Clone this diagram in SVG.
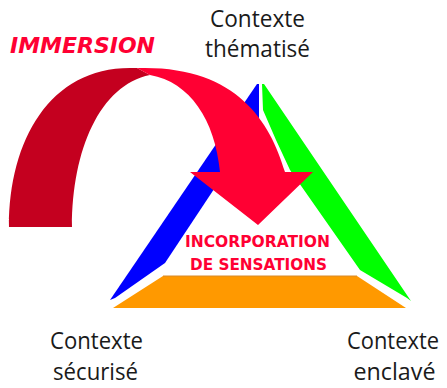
<svg xmlns="http://www.w3.org/2000/svg" width="447" height="388" viewBox="0 0 447 388">
<style>
.lbl{font-family:"Open Sans","Liberation Sans",sans-serif;font-size:24px;fill:#1a1a1a;text-anchor:middle}
.red{font-family:"DejaVu Sans","Liberation Sans",sans-serif;font-weight:bold;fill:#FF0033}
</style>
<rect width="447" height="388" fill="#ffffff"/>
<g id="triangle">
  <polygon id="side-blue" points="257,84 259,84 259,118 230,165 165,263 115,298 110,300" fill="#0000FF"/>
  <polygon id="side-green" points="262,84 264,84 411,301 407,298 360,270 290,170 276,140 263,110" fill="#00FF00"/>
  <polygon id="base-orange" points="163,276 357,276 406,308 113,308" fill="#FF9900"/>
  <line x1="163" y1="276" x2="357" y2="276" stroke="#D88A2A" stroke-width="1"/>
</g>
<g id="connectors">
  <g id="immersion-arrow">
    <path d="M9,227 C9,140 50,68 130,68 L137,68 L150,75 C100,85 72,150 72,227 Z" fill="#C4001F"/>
    <path d="M137,68 L140,68 C235,66 270,120 285,172 L313,172 L258,225 L190,172 L220,172 C215,120 190,82 150,75 Z" fill="#FF0033"/>
  </g>
</g>
<g id="label-immersion">
  <text class="red" x="10" y="53" font-size="21.5" font-style="italic" textLength="145" lengthAdjust="spacingAndGlyphs">IMMERSION</text>
</g>
<g id="node-incorporation">
  <text class="red" x="185" y="247" font-size="16.5" textLength="145" lengthAdjust="spacingAndGlyphs">INCORPORATION</text>
  <text class="red" x="190" y="270" font-size="16.5" textLength="137" lengthAdjust="spacingAndGlyphs">DE SENSATIONS</text>
</g>
<g id="node-thematise">
  <text class="lbl" x="257.5" y="27" textLength="95" lengthAdjust="spacingAndGlyphs">Contexte</text>
  <text class="lbl" x="257.5" y="57" textLength="105" lengthAdjust="spacingAndGlyphs">thématisé</text>
</g>
<g id="node-securise">
  <text class="lbl" x="96.5" y="349" textLength="93" lengthAdjust="spacingAndGlyphs">Contexte</text>
  <text class="lbl" x="95.5" y="380" textLength="85" lengthAdjust="spacingAndGlyphs">sécurisé</text>
</g>
<g id="node-enclave">
  <text class="lbl" x="393" y="349" textLength="92" lengthAdjust="spacingAndGlyphs">Contexte</text>
  <text class="lbl" x="394.5" y="380" textLength="82" lengthAdjust="spacingAndGlyphs">enclavé</text>
</g>
</svg>
